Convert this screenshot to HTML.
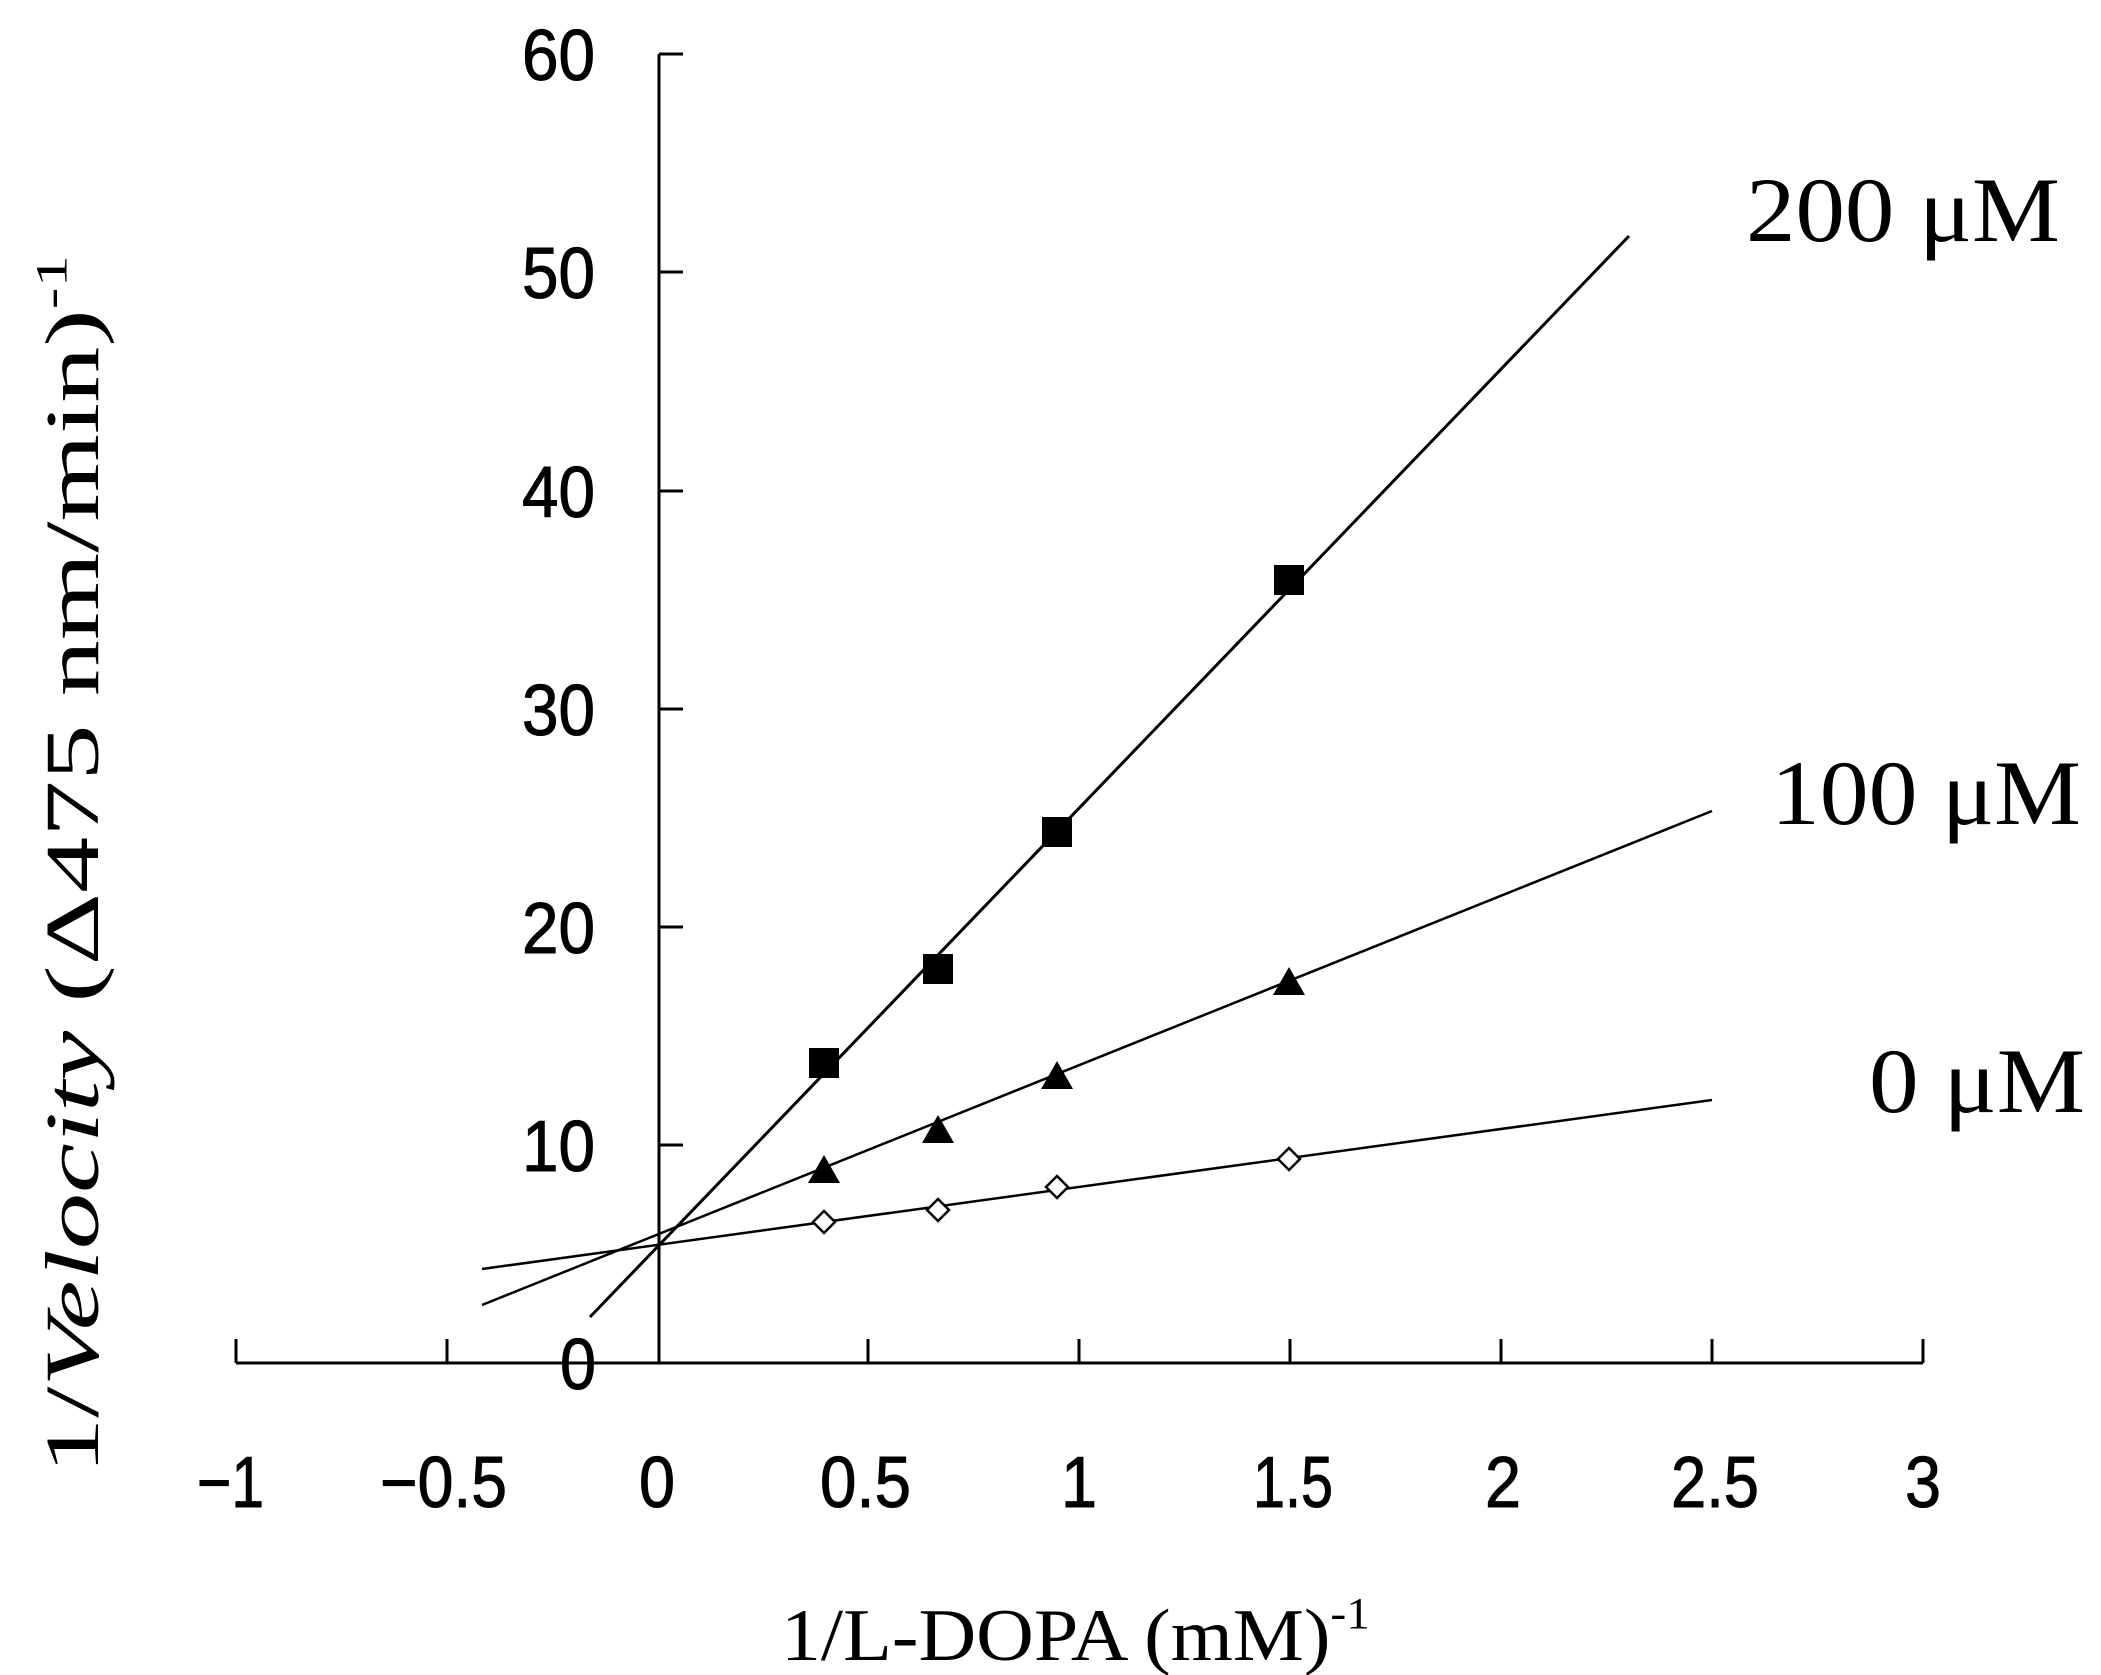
<!DOCTYPE html>
<html><head><meta charset="utf-8"><style>html,body{margin:0;padding:0;background:#fff}svg{display:block}</style></head>
<body>
<svg width="2101" height="1675" viewBox="0 0 2101 1675" xmlns="http://www.w3.org/2000/svg">
<rect width="2101" height="1675" fill="#fff"/>
<g stroke="#000" stroke-width="3" fill="none">
<line x1="236" y1="1363" x2="1923" y2="1363"/>
<line x1="659" y1="54" x2="659" y2="1363"/>
<line x1="236" y1="1363" x2="236" y2="1339"/>
<line x1="447" y1="1363" x2="447" y2="1339"/>
<line x1="868" y1="1363" x2="868" y2="1339"/>
<line x1="1079" y1="1363" x2="1079" y2="1339"/>
<line x1="1290" y1="1363" x2="1290" y2="1339"/>
<line x1="1501" y1="1363" x2="1501" y2="1339"/>
<line x1="1712" y1="1363" x2="1712" y2="1339"/>
<line x1="1923" y1="1363" x2="1923" y2="1339"/>
<line x1="659" y1="54" x2="683" y2="54"/>
<line x1="659" y1="272" x2="683" y2="272"/>
<line x1="659" y1="491" x2="683" y2="491"/>
<line x1="659" y1="709" x2="683" y2="709"/>
<line x1="659" y1="927" x2="683" y2="927"/>
<line x1="659" y1="1145" x2="683" y2="1145"/>
</g>
<g stroke="#000">
<line x1="590" y1="1317" x2="1629" y2="236" stroke-width="3"/>
<line x1="482" y1="1305" x2="1712" y2="811" stroke-width="2.5"/>
<line x1="482" y1="1269" x2="1712" y2="1100" stroke-width="2.5"/>
</g>
<g fill="#000">
<rect x="809" y="1048" width="30" height="30"/>
<rect x="923" y="954" width="30" height="30"/>
<rect x="1042" y="817" width="30" height="30"/>
<rect x="1274" y="565" width="30" height="30"/>
<polygon points="824,1155 840,1183 808,1183"/>
<polygon points="938,1115 954,1143 922,1143"/>
<polygon points="1057,1061 1073,1089 1041,1089"/>
<polygon points="1289,967 1305,995 1273,995"/>
</g>
<g fill="#fff" stroke="#000" stroke-width="2.5">
<polygon points="824,1211 835,1222 824,1233 813,1222"/>
<polygon points="938,1199 949,1210 938,1221 927,1210"/>
<polygon points="1057,1176 1068,1187 1057,1198 1046,1187"/>
<polygon points="1289,1148 1300,1159 1289,1170 1278,1159"/>
</g>
<g font-family="Liberation Sans, sans-serif" font-size="72" fill="#000" stroke="#000" stroke-width="1">
<text x="522" y="80" textLength="73" lengthAdjust="spacingAndGlyphs">60</text>
<text x="522" y="298" textLength="73" lengthAdjust="spacingAndGlyphs">50</text>
<text x="522" y="517" textLength="73" lengthAdjust="spacingAndGlyphs">40</text>
<text x="522" y="735" textLength="73" lengthAdjust="spacingAndGlyphs">30</text>
<text x="522" y="953" textLength="73" lengthAdjust="spacingAndGlyphs">20</text>
<text x="522" y="1171" textLength="73" lengthAdjust="spacingAndGlyphs">10</text>
<text x="560" y="1389" textLength="36" lengthAdjust="spacingAndGlyphs">0</text>
<text x="197" y="1507" textLength="67" lengthAdjust="spacingAndGlyphs">−1</text>
<text x="380" y="1507" textLength="127" lengthAdjust="spacingAndGlyphs">−0.5</text>
<text x="639" y="1507" textLength="36" lengthAdjust="spacingAndGlyphs">0</text>
<text x="820" y="1507" textLength="91" lengthAdjust="spacingAndGlyphs">0.5</text>
<text x="1061" y="1507" textLength="36" lengthAdjust="spacingAndGlyphs">1</text>
<text x="1253" y="1507" textLength="80" lengthAdjust="spacingAndGlyphs">1.5</text>
<text x="1485" y="1507" textLength="36" lengthAdjust="spacingAndGlyphs">2</text>
<text x="1671" y="1507" textLength="88" lengthAdjust="spacingAndGlyphs">2.5</text>
<text x="1905" y="1507" textLength="36" lengthAdjust="spacingAndGlyphs">3</text>
</g>
<g font-family="Liberation Serif, serif" font-size="92" fill="#000">
<text x="1746" y="241" textLength="314" lengthAdjust="spacingAndGlyphs">200 μM</text>
<text x="1771" y="824" textLength="310" lengthAdjust="spacingAndGlyphs">100 μM</text>
<text x="1869" y="1112" textLength="216" lengthAdjust="spacingAndGlyphs">0 μM</text>
</g>
<text x="781" y="1660" font-family="Liberation Serif, serif" font-size="74" textLength="589" lengthAdjust="spacingAndGlyphs">1/L-DOPA (mM)<tspan dy="-32" font-size="44">-1</tspan></text>
<text transform="translate(98,1474) rotate(-90)" font-family="Liberation Serif, serif" font-size="76" textLength="1219" lengthAdjust="spacingAndGlyphs">1/<tspan font-style="italic">Velocity</tspan> (Δ475 nm/min)<tspan dy="-32" font-size="44">-1</tspan></text>
</svg>
</body></html>
